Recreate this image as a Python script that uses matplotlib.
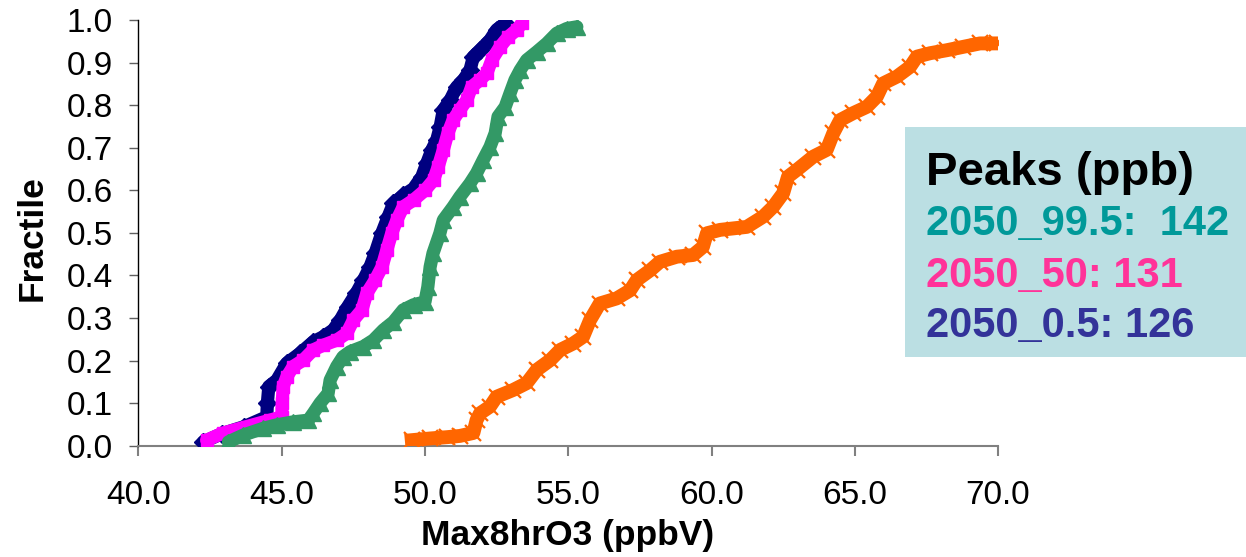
import matplotlib
matplotlib.use("Agg")
import matplotlib.pyplot as plt
from matplotlib.patches import Rectangle

plt.rcParams['font.family'] = ['Liberation Sans', 'DejaVu Sans']

# Cumulative distributions of daily max 8-hr ozone (ppbV) vs fractile
navy_x = [42.27, 42.9, 43.7, 44.48, 44.5, 44.55, 44.83, 45.18, 45.64, 46.1, 46.45, 46.8,
          47.04, 47.3, 47.6, 47.85, 48.08, 48.26, 48.49, 48.71, 48.9, 49.24, 49.6,
          49.89, 50.06, 50.24, 50.41, 50.53, 50.64, 50.88, 51.11, 51.34, 51.57, 51.69,
          51.92, 52.27, 52.5, 52.8]
navy_y = [0.009, 0.028, 0.045, 0.068, 0.1, 0.139, 0.154, 0.194, 0.217, 0.244, 0.256, 0.272,
          0.295, 0.326, 0.358, 0.389, 0.42, 0.452, 0.499, 0.537, 0.569, 0.588, 0.604,
          0.632, 0.663, 0.695, 0.718, 0.749, 0.789, 0.812, 0.843, 0.859, 0.882, 0.914,
          0.929, 0.953, 0.977, 0.992]

magenta_x = [42.38, 42.96, 43.78, 44.59, 45.0, 45.02, 45.05, 45.18, 45.4, 45.75, 46.1, 46.45,
             46.92, 47.27, 47.5, 47.8, 47.97, 48.26, 48.5, 48.67, 48.84, 49.02, 49.24,
             49.6, 50.0, 50.3, 50.46, 50.64, 50.8, 50.98, 51.22, 51.46, 51.63, 51.92,
             52.16, 52.33, 52.62, 52.9, 53.2, 53.38]
magenta_y = [0.013, 0.03, 0.045, 0.06, 0.068, 0.1, 0.139, 0.162, 0.186, 0.201, 0.225, 0.236,
             0.248, 0.264, 0.295, 0.319, 0.358, 0.389, 0.42, 0.46, 0.499, 0.53, 0.561,
             0.577, 0.6, 0.624, 0.655, 0.695, 0.734, 0.765, 0.789, 0.812, 0.843, 0.859,
             0.875, 0.906, 0.937, 0.96, 0.977, 0.992]

green_x = [43.14, 43.66, 44.36, 44.83, 45.4, 45.93, 46.1, 46.34, 46.62, 46.69, 46.92, 47.14,
           47.39, 47.85, 48.2, 48.55, 48.9, 49.24, 49.6, 50.0, 50.1, 50.18, 50.28, 50.52,
           50.64, 50.98, 51.22, 51.57, 51.8, 52.03, 52.27, 52.45, 52.55, 52.8, 52.97,
           53.14, 53.32, 53.55, 53.9, 54.25, 54.6, 54.95, 55.3]
green_y = [0.009, 0.025, 0.041, 0.049, 0.056, 0.06, 0.076, 0.1, 0.123, 0.154, 0.186, 0.209,
           0.221, 0.233, 0.248, 0.272, 0.291, 0.319, 0.331, 0.338, 0.373, 0.42, 0.452, 0.499,
           0.53, 0.561, 0.585, 0.616, 0.64, 0.671, 0.702, 0.734, 0.773, 0.796, 0.828,
           0.859, 0.882, 0.906, 0.925, 0.945, 0.969, 0.98, 0.984]

orange_x = [49.54, 50.18, 50.76, 51.22, 51.69, 51.8, 51.92, 52.27, 52.5, 53.08, 53.55, 53.9,
            54.37, 54.72, 55.17, 55.52, 55.76, 56.1, 56.69, 57.16, 57.39, 57.86, 58.2,
            58.79, 59.36, 59.7, 59.84, 60.3, 61.23, 61.8, 62.15, 62.5, 62.67, 62.98,
            63.55, 64.02, 64.25, 64.49, 64.94, 65.42, 65.77, 65.99, 66.47, 66.93, 67.17,
            67.63, 68.21, 68.79, 69.37, 69.96]
orange_y = [0.013, 0.017, 0.02, 0.023, 0.03, 0.06, 0.076, 0.092, 0.115, 0.131, 0.147, 0.178,
            0.201, 0.225, 0.24, 0.256, 0.295, 0.334, 0.346, 0.365, 0.389, 0.412, 0.432,
            0.444, 0.448, 0.467, 0.499, 0.507, 0.514, 0.538, 0.561, 0.593, 0.632, 0.648,
            0.679, 0.695, 0.734, 0.765, 0.781, 0.796, 0.82, 0.851, 0.867, 0.89, 0.914,
            0.922, 0.929, 0.937, 0.945, 0.945]

x_ticks = [40.0, 45.0, 50.0, 55.0, 60.0, 65.0, 70.0]
y_ticks = [0.0, 0.1, 0.2, 0.3, 0.4, 0.5, 0.6, 0.7, 0.8, 0.9, 1.0]

peaks_title = "Peaks (ppb)"
peaks_lines = ["2050_99.5:  142", "2050_50: 131", "2050_0.5: 126"]
peaks_colors = ["#009999", "#FF3399", "#333399"]

fig = plt.figure(figsize=(12.46, 5.57), dpi=100)
ax = fig.add_axes([0.1111, 0.1998, 0.6899, 0.7643])

ax.plot(navy_x, navy_y, color="#000080", lw=9.5, marker="D", ms=9, zorder=3,
        solid_joinstyle="round", solid_capstyle="round")
ax.plot(magenta_x, magenta_y, color="#FF00FF", lw=9.5, marker="s", ms=9, zorder=4,
        solid_joinstyle="round", solid_capstyle="round")
ax.plot(green_x, green_y, color="#339966", lw=9.5, marker="^", ms=11, zorder=5,
        solid_joinstyle="round", solid_capstyle="round")
ax.plot(orange_x, orange_y, color="#FF6600", lw=10, marker="x", ms=12, mew=1.6, zorder=6,
        solid_joinstyle="round")

ax.set_xlim(40, 70)
ax.set_ylim(0, 1.0)
ax.set_xticks(x_ticks)
ax.set_xticklabels([f"{v:.1f}" for v in x_ticks])
ax.set_yticks(y_ticks)
ax.set_yticklabels([f"{v:.1f}" for v in y_ticks])

for side in ("top", "right"):
    ax.spines[side].set_visible(False)
ax.spines["left"].set_color("#000000")
ax.spines["bottom"].set_color("#808080")
ax.spines["left"].set_linewidth(1.0)
ax.spines["bottom"].set_linewidth(1.5)

ax.tick_params(axis="x", direction="out", length=7, width=1.5, color="#808080",
               labelsize=24, pad=18)
ax.tick_params(axis="y", direction="out", length=6.5, width=1.0, color="#606060",
               labelsize=24, pad=12)

ax.set_xlabel("Max8hrO3 (ppbV)", fontsize=25.5, fontweight="bold")
ax.xaxis.set_label_coords(0.4993, -0.172)
ax.set_ylabel("Fractile", fontsize=25.5, fontweight="bold")
ax.yaxis.set_label_coords(-0.104, 0.488)

# Peak values annotation box
fig.patches.append(Rectangle((0.7263, 0.359), 0.2737, 0.4135, transform=fig.transFigure,
                             facecolor="#BBDFE3", edgecolor="none", zorder=0))
fig.text(0.7432, 0.6679, peaks_title, fontsize=34, fontweight="bold", color="black",
         va="baseline", ha="left")
for i, (line, col) in enumerate(zip(peaks_lines, peaks_colors)):
    fig.text(0.7432, [0.5781, 0.4853, 0.3955][i], line, fontsize=30, fontweight="bold",
             color=col, va="baseline", ha="left")

fig.savefig("out.png", dpi=100)
